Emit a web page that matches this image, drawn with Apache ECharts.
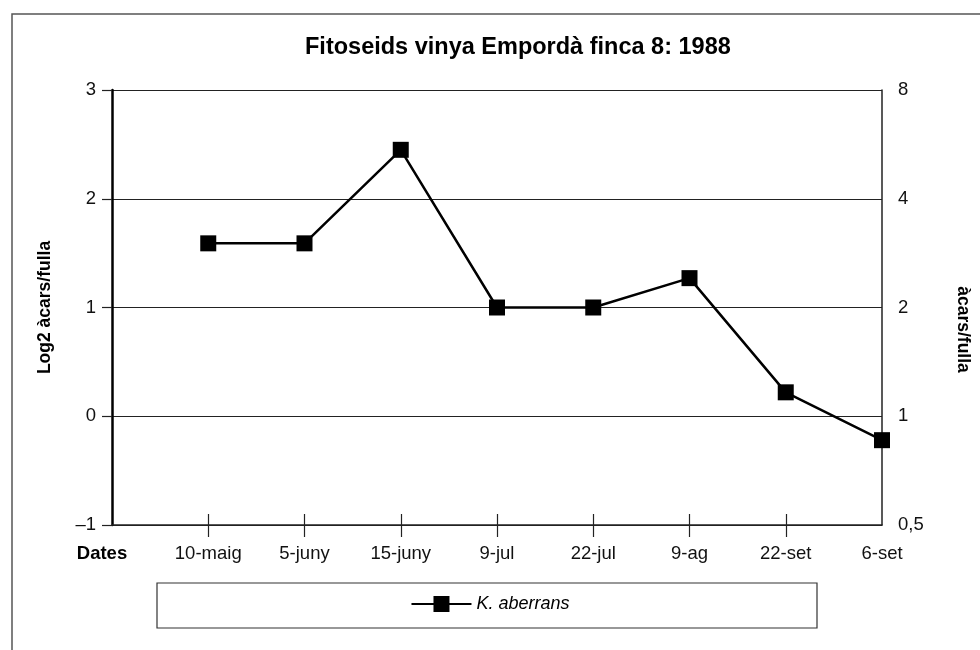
<!DOCTYPE html>
<html>
<head>
<meta charset="utf-8">
<title>Fitoseids vinya Empordà finca 8: 1988</title>
<script src="https://cdn.jsdelivr.net/npm/echarts@6/dist/echarts.min.js"></script>
<style>
  html, body { margin: 0; padding: 0; background: #fff; }
  #chart { width: 980px; height: 650px; }
</style>
</head>
<body>
<div id="chart"></div>
<script>
// data
const dates = ["Dates", "10-maig", "5-juny", "15-juny", "9-jul", "22-jul", "9-ag", "22-set", "6-set"];
const log2Acars = [null, 1.59, 1.59, 2.45, 1.0, 1.0, 1.27, 0.22, -0.22];
const leftTicks = [-1, 0, 1, 2, 3];
const rightTickLabels = ["0,5", "1", "2", "4", "8"];
const seriesName = "K. aberrans";

const font = "Liberation Sans, Arial, Helvetica, sans-serif";

const chart = echarts.init(document.getElementById("chart"));

chart.setOption({
  animation: false,
  textStyle: { fontFamily: font },
  title: {
    text: "Fitoseids vinya Empordà finca 8: 1988",
    left: 305,
    top: 36,
    padding: 0,
    textStyle: { fontSize: 23.5, fontWeight: "bold", color: "#000", fontFamily: font }
  },
  graphic: [
    {
      // outer frame (only top and left edges are visible)
      type: "rect",
      shape: { x: 12, y: 14, width: 1000, height: 700 },
      style: { fill: null, stroke: "#555", lineWidth: 1.5 },
      silent: true
    },
    {
      // legend box
      type: "rect",
      shape: { x: 157, y: 583, width: 660, height: 45 },
      style: { fill: null, stroke: "#333", lineWidth: 1.2 },
      silent: true
    }
  ],
  legend: {
    data: [seriesName],
    left: "center",
    top: 595,
    padding: 0,
    itemWidth: 60,
    itemHeight: 20,
    itemGap: 6,
    textStyle: { fontSize: 18, fontStyle: "italic", color: "#000", fontFamily: font }
  },
  grid: {
    left: 112,
    right: 87,
    top: 90,
    bottom: 125
  },
  xAxis: [
    {
      type: "category",
      data: dates,
      boundaryGap: false,
      axisLine: { onZero: false, lineStyle: { color: "#222", width: 1.5 } },
      axisTick: {
        inside: true,
        length: 11,
        interval: (i) => i > 0 && i < dates.length - 1,
        lineStyle: { color: "#222", width: 1.2 }
      },
      axisLabel: {
        margin: 19,
        fontSize: 18.5,
        color: "#111",
        interval: 0,
        formatter: (v, i) => (i === 0 ? "{d|" + v + "}" : v),
        rich: {
          d: { fontSize: 18.5, fontWeight: "bold", color: "#000", padding: [0, 20, 0, 0] }
        }
      },
      splitLine: { show: false }
    },
    {
      // second copy only for the ticks below the axis line
      type: "category",
      data: dates,
      boundaryGap: false,
      position: "bottom",
      axisLine: { show: false, onZero: false },
      axisTick: {
        inside: false,
        length: 12,
        interval: (i) => i > 0 && i < dates.length - 1,
        lineStyle: { color: "#222", width: 1.2 }
      },
      axisLabel: { show: false },
      splitLine: { show: false }
    }
  ],
  yAxis: [
    {
      type: "value",
      min: leftTicks[0],
      max: leftTicks[leftTicks.length - 1],
      interval: 1,
      name: "Log2 àcars/fulla",
      nameLocation: "middle",
      nameGap: 58,
      nameTextStyle: { fontSize: 17.5, fontWeight: "bold", color: "#000", fontFamily: font },
      axisLine: { show: true, onZero: false, lineStyle: { color: "#000", width: 2.5 } },
      axisTick: { show: true, length: 10, lineStyle: { color: "#222", width: 1.2 } },
      axisLabel: {
        fontSize: 18.5,
        color: "#111",
        margin: 16,
        formatter: (v) => (v < 0 ? "\u2013" + Math.abs(v) : String(v))
      },
      splitLine: { show: true, lineStyle: { color: "#222", width: 1.2 } }
    },
    {
      type: "value",
      position: "right",
      min: leftTicks[0],
      max: leftTicks[leftTicks.length - 1],
      interval: 1,
      name: "àcars/fulla",
      nameLocation: "middle",
      nameGap: 72,
      nameRotate: -90,
      nameTextStyle: { fontSize: 17.5, fontWeight: "bold", color: "#000", fontFamily: font, padding: [0, 0, 0, 44] },
      axisLine: { show: true, onZero: false, lineStyle: { color: "#222", width: 1.5 } },
      axisTick: { show: false },
      axisLabel: {
        fontSize: 18.5,
        color: "#111",
        margin: 16,
        formatter: (v) => rightTickLabels[leftTicks.indexOf(v)]
      },
      splitLine: { show: false }
    }
  ],
  series: [
    {
      name: seriesName,
      type: "line",
      data: log2Acars,
      xAxisIndex: 0,
      yAxisIndex: 0,
      connectNulls: false,
      symbol: "rect",
      symbolSize: 16,
      z: 5,
      itemStyle: { color: "#000" },
      lineStyle: { color: "#000", width: 2.5 }
    }
  ]
});
</script>
</body>
</html>
